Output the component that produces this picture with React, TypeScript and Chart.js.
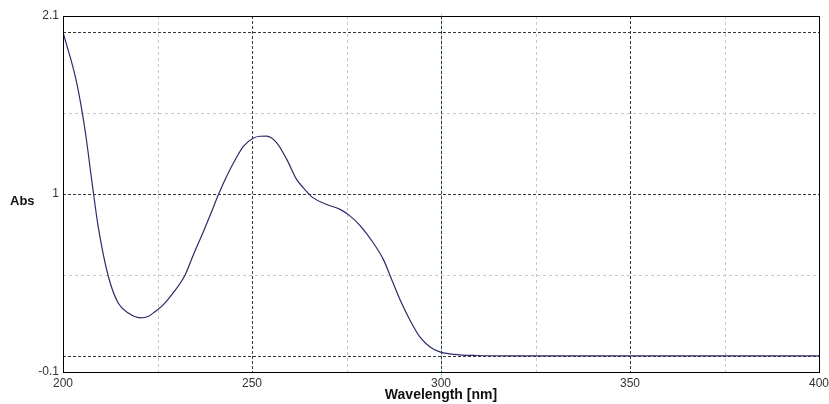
import React, { useEffect, useRef } from "react";
import { Chart, registerables } from "chart.js";

Chart.register(...registerables);

const wavelength = [
  200, 203.6, 205.8, 207.8, 209.3, 212, 214.6, 217.3, 220.4, 222.5, 224.3, 226.5, 229.2,
  232.3, 234.5, 237.1, 239.3, 241.1, 243.3, 246, 247.7, 250.3, 252.1, 253.9, 256.5, 259.2,
  261.8, 263.6, 266.2, 269.8, 273.3, 275.9, 278.6, 282.1, 284.8, 287, 289.2, 291.8, 294.4,
  297.1, 299.7, 303.3, 309.4, 320, 350, 400,
];
const absorbance = [
  2.0, 1.69, 1.4, 1.05, 0.8, 0.49, 0.326, 0.264, 0.235, 0.243, 0.272, 0.315, 0.39,
  0.5, 0.625, 0.765, 0.89, 0.995, 1.11, 1.23, 1.295, 1.345, 1.357, 1.358, 1.318, 1.214,
  1.09, 1.038, 0.976, 0.935, 0.905, 0.865, 0.805, 0.697, 0.593, 0.469, 0.345, 0.22, 0.117,
  0.055, 0.024, 0.009, 0.002, 0.0, 0.0, 0.0,
];

const xMin = 200;
const xMax = 400;
const xStep = 50;
const yMin = -0.1;
const yMax = 2.1;
const yTickLabels = [-0.1, 1, 2.1];
const yMajorGrid = [0, 1, 2];
const yMinorGrid = [0.5, 1.5];
const xMajorGrid = [250, 350];
const xMinorGrid = [225, 275, 325, 375];
const xCursor = 300;
const yTitle = "Abs";
const xTitle = "Wavelength [nm]";

const FONT = "'Liberation Sans', Arial, sans-serif";

const gridPlugin = {
  id: "customGrid",
  beforeDatasetsDraw(chart: any) {
    const { ctx, chartArea: a, scales } = chart;
    const xs = scales.x;
    const ys = scales.y;
    ctx.save();
    const hLine = (v: number, color: string, dash: number[]) => {
      const y = Math.round(ys.getPixelForValue(v)) + 0.5;
      ctx.strokeStyle = color;
      ctx.setLineDash(dash);
      ctx.lineWidth = 1;
      ctx.beginPath();
      ctx.moveTo(a.left, y);
      ctx.lineTo(a.right, y);
      ctx.stroke();
    };
    const vLine = (v: number, color: string, dash: number[], y0 = a.top, y1 = a.bottom) => {
      const x = Math.round(xs.getPixelForValue(v)) + 0.5;
      ctx.strokeStyle = color;
      ctx.setLineDash(dash);
      ctx.lineWidth = 1;
      ctx.beginPath();
      ctx.moveTo(x, y0);
      ctx.lineTo(x, y1);
      ctx.stroke();
    };
    yMinorGrid.forEach((v) => hLine(v, "#c8c8c8", [3, 3]));
    xMinorGrid.forEach((v) => vLine(v, "#c8c8c8", [3, 3]));
    vLine(xCursor, "#9fd8ee", [], a.top - 2, a.bottom + 5);
    yMajorGrid.forEach((v) => hLine(v, "#3a3a3a", [3, 2]));
    xMajorGrid.forEach((v) => vLine(v, "#3a3a3a", [3, 2]));
    vLine(xCursor, "#3a3a3a", [3, 2]);
    ctx.restore();
  },
  afterDraw(chart: any) {
    const { ctx, chartArea: a } = chart;
    ctx.save();
    ctx.strokeStyle = "#000";
    ctx.lineWidth = 1;
    ctx.setLineDash([]);
    ctx.strokeRect(Math.round(a.left) + 0.5, Math.round(a.top) + 0.5, Math.round(a.right - a.left), Math.round(a.bottom - a.top));
    ctx.font = `bold 13px ${FONT}`;
    ctx.fillStyle = "#111";
    ctx.textAlign = "left";
    ctx.textBaseline = "middle";
    ctx.fillText(yTitle, 10, 201);
    ctx.restore();
  },
};

export default function App() {
  const ref = useRef<HTMLCanvasElement | null>(null);
  useEffect(() => {
    document.body.style.margin = "0";
    const canvas = ref.current;
    if (!canvas) return;
    const chart = new Chart(canvas, {
      type: "line",
      data: {
        datasets: [
          {
            data: wavelength.map((w, i) => ({ x: w, y: absorbance[i] })),
            borderColor: "#2b2b6b",
            borderWidth: 1.2,
            pointRadius: 0,
            cubicInterpolationMode: "monotone",
            fill: false,
          },
        ],
      },
      options: {
        animation: false,
        responsive: false,
        maintainAspectRatio: false,
        layout: { padding: { top: 16, right: 10, left: 0, bottom: 0 } },
        plugins: { legend: { display: false }, tooltip: { enabled: false } },
        scales: {
          x: {
            type: "linear",
            min: xMin,
            max: xMax,
            grid: { display: false, drawTicks: false, tickLength: 0 },
            border: { display: false },
            ticks: {
              stepSize: xStep,
              autoSkip: false,
              maxRotation: 0,
              padding: 4,
              color: "#333",
              font: { family: FONT, size: 12 },
            },
            title: {
              display: true,
              text: xTitle,
              color: "#111",
              font: { family: FONT, size: 14, weight: "bold" },
              padding: { top: 0, bottom: 0 },
            },
            afterFit: (s: any) => {
              s.height = 32;
              s.paddingLeft = 0;
              s.paddingRight = 0;
            },
          },
          y: {
            type: "linear",
            min: yMin,
            max: yMax,
            grid: { display: false, drawTicks: false, tickLength: 0 },
            border: { display: false },
            afterBuildTicks: (s: any) => {
              s.ticks = yTickLabels.map((v) => ({ value: v }));
            },
            ticks: {
              padding: 4,
              color: "#333",
              font: { family: FONT, size: 12 },
              callback: (v: any) => String(v),
            },
            afterFit: (s: any) => {
              s.width = 63;
            },
          },
        },
      },
      plugins: [gridPlugin],
    } as any);
    return () => chart.destroy();
  }, []);
  return (
    <div style={{ width: 829, height: 404, background: "#fff" }}>
      <canvas ref={ref} width={829} height={404} style={{ display: "block" }} />
    </div>
  );
}
